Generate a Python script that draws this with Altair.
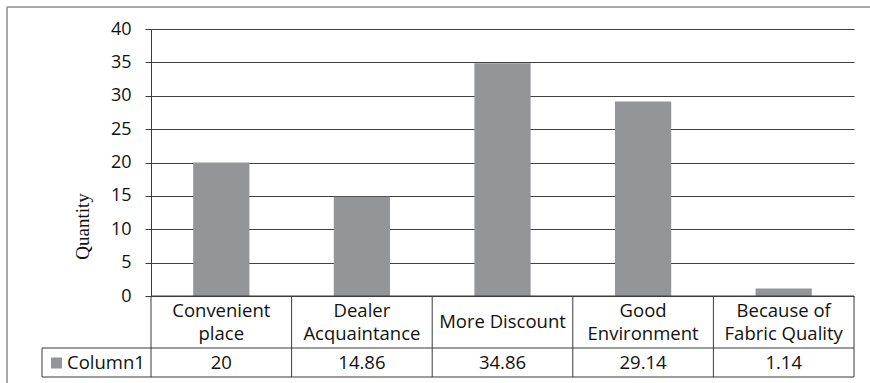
import altair as alt
import pandas as pd

categories = ["Convenient\nplace", "Dealer\nAcquaintance", "More Discount",
              "Good\nEnvironment", "Because of\nFabric Quality"]
values = [20, 14.86, 34.86, 29.14, 1.14]
series_name = "Column1"
y_ticks = [0, 5, 10, 15, 20, 25, 30, 35, 40]

df = pd.DataFrame({"cat": categories, "value": values})
last_df = df.tail(1)

W, H = 703, 267
BAR = "#939598"
LINE = "#3a3a3a"
TXT = "#111111"
FONT = "Open Sans"
FS = 18.5

def xcat(**kw):
    return alt.X("cat:N", sort=categories,
                 scale=alt.Scale(paddingInner=0, paddingOuter=0), axis=None, **kw)

bars = alt.Chart(df).mark_bar(color=BAR, width=alt.RelativeBandSize(0.4)).encode(
    x=xcat(),
    y=alt.Y("value:Q", scale=alt.Scale(domain=[0, 40], nice=False),
            axis=alt.Axis(values=y_ticks, title="Quantity", grid=True,
                          gridColor="#404040", gridWidth=1,
                          domainColor=LINE, tickColor=LINE, tickSize=6,
                          labelFont=FONT, labelFontSize=18, labelColor=TXT,
                          labelFontWeight=500,
                          labelPadding=14,
                          titleFont="Liberation Serif", titleFontSize=19,
                          titleFontWeight="normal", titleColor=TXT,
                          titleAngle=-90, titleX=-69, titleY=197,
                          titleAlign="center", titleBaseline="middle")),
)

one = alt.Data(values=[{"a": 1}])

# table vertical lines at category boundaries
vlines = alt.Chart(df).mark_rule(color=LINE, strokeWidth=1).encode(
    x=xcat(bandPosition=0), y=alt.value(H), y2=alt.value(H + 81))
vline_end = alt.Chart(last_df).mark_rule(color=LINE, strokeWidth=1).encode(
    x=xcat(bandPosition=1), y=alt.value(H), y2=alt.value(H + 81))

h_top = alt.Chart(one).mark_rule(color=LINE).encode(
    x=alt.value(0), x2=alt.value(W), y=alt.value(H))
h_mid = alt.Chart(one).mark_rule(color=LINE).encode(
    x=alt.value(-109), x2=alt.value(W), y=alt.value(H + 52))
h_bot = alt.Chart(one).mark_rule(color=LINE).encode(
    x=alt.value(-109), x2=alt.value(W), y=alt.value(H + 81))
v_left = alt.Chart(one).mark_rule(color=LINE).encode(
    x=alt.value(-109), y=alt.value(H + 52), y2=alt.value(H + 81))

# outer frame
frame_top = alt.Chart(one).mark_rule(color="#8c8c8c", strokeWidth=1.5).encode(
    x=alt.value(-144), x2=alt.value(W + 20), y=alt.value(-22))
frame_left = alt.Chart(one).mark_rule(color="#8c8c8c", strokeWidth=1.5).encode(
    x=alt.value(-144), y=alt.value(-22), y2=alt.value(H + 100))

text_style = dict(font=FONT, fontSize=FS, color=TXT, fontWeight=500,
                  baseline="middle", align="center")

cat_text_multi = alt.Chart(df).transform_filter(
    "indexof(datum.cat, '\\n') >= 0").mark_text(
    lineBreak="\n", lineHeight=23, **text_style).encode(
    x=xcat(), y=alt.value(H + 14.5), text="cat:N")

cat_text_single = alt.Chart(df).transform_filter(
    "indexof(datum.cat, '\\n') < 0").mark_text(**text_style).encode(
    x=xcat(), y=alt.value(H + 26), text="cat:N")

val_text = alt.Chart(df).mark_text(**text_style).encode(
    x=xcat(), y=alt.value(H + 67), text=alt.Text("value:Q", format="~g"))

legend_sq = alt.Chart(one).mark_square(color=BAR, size=121, opacity=1).encode(
    x=alt.value(-94.5), y=alt.value(H + 67))
legend_txt = alt.Chart(alt.Data(values=[{"name": series_name}])).mark_text(
    font=FONT, fontSize=FS, color=TXT, fontWeight=500,
    align="left", baseline="middle").encode(
    x=alt.value(-84), y=alt.value(H + 67), text="name:N")

chart = alt.layer(
    frame_top, frame_left, bars, vlines, vline_end, h_top, h_mid, h_bot, v_left,
    cat_text_multi, cat_text_single, val_text, legend_sq, legend_txt
).properties(
    width=W, height=H,
    autosize=alt.AutoSizeParams(type="none"),
    padding={"left": 151, "top": 29, "right": 16, "bottom": 87},
    background="white",
).configure_view(stroke=None)

chart.save("out.html", embed_options={"renderer": "svg", "actions": False})
